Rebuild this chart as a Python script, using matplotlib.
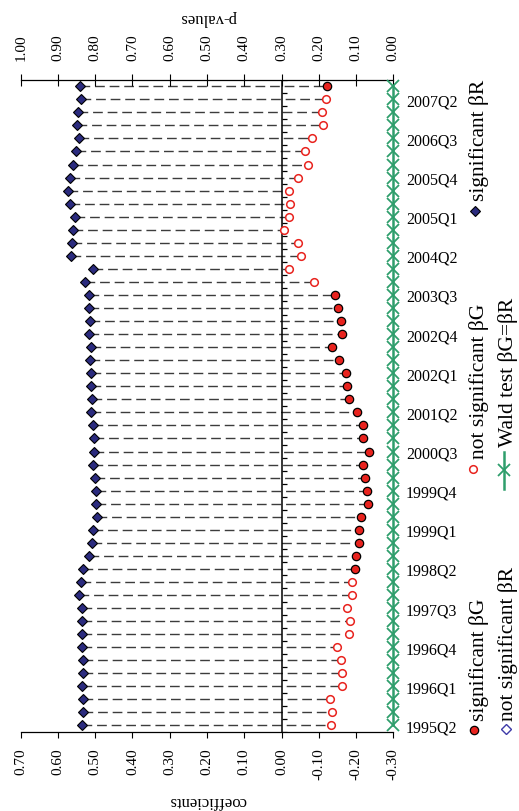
import numpy as np
import pandas as pd
import matplotlib
matplotlib.use("Agg")
import matplotlib.pyplot as plt
from matplotlib.markers import TICKRIGHT

plt.rcParams['font.family'] = ['Liberation Serif', 'DejaVu Serif']

quarters = [str(p) for p in pd.period_range('1995Q2', '2007Q3', freq='Q')]

beta_r = [0.535, 0.534, 0.534, 0.535, 0.534, 0.534, 0.535, 0.535, 0.535, 0.535,
          0.543, 0.539, 0.534, 0.518, 0.509, 0.505, 0.494, 0.498, 0.498, 0.500,
          0.505, 0.503, 0.503, 0.507, 0.512, 0.509, 0.511, 0.511, 0.514, 0.512,
          0.516, 0.514, 0.518, 0.518, 0.527, 0.507, 0.564, 0.562, 0.559, 0.553,
          0.568, 0.573, 0.568, 0.560, 0.552, 0.543, 0.550, 0.545, 0.539, 0.541]

beta_g = [-0.134, -0.135, -0.130, -0.162, -0.162, -0.159, -0.148, -0.182, -0.184, -0.175,
          -0.189, -0.189, -0.196, -0.200, -0.207, -0.207, -0.213, -0.232, -0.229, -0.225,
          -0.218, -0.236, -0.218, -0.218, -0.203, -0.180, -0.177, -0.173, -0.155, -0.135,
          -0.162, -0.159, -0.152, -0.144, -0.088, -0.019, -0.051, -0.045, -0.007, -0.019,
          -0.023, -0.019, -0.045, -0.071, -0.063, -0.081, -0.111, -0.108, -0.119, -0.123]

# 1 = significant
g_sig = [0, 0, 0, 0, 0, 0, 0, 0, 0, 0, 0, 0, 1, 1, 1, 1, 1, 1, 1, 1,
         1, 1, 1, 1, 1, 1, 1, 1, 1, 1, 1, 1, 1, 1, 0, 0, 0, 0, 0, 0,
         0, 0, 0, 0, 0, 0, 0, 0, 0, 1]
r_sig = [1] * 50

wald_p = [0.0, 0.0, 0.0, 0.0, 0.0, 0.0, 0.0, 0.0, 0.0, 0.0,
          0.0, 0.0, 0.0, 0.0, 0.0, 0.0, 0.0, 0.0, 0.0, 0.0,
          0.0, 0.0, 0.0, 0.0, 0.0, 0.0, 0.0, 0.0, 0.0, 0.0,
          0.0, 0.0, 0.0, 0.0, 0.0, 0.0, 0.0, 0.0, 0.0, 0.0,
          0.0, 0.0, 0.0, 0.0, 0.0, 0.0, 0.0, 0.0, 0.0, 0.0]

coef_ticks = [0.70, 0.60, 0.50, 0.40, 0.30, 0.20, 0.10, 0.00, -0.10, -0.20, -0.30]
p_ticks = [1.00, 0.90, 0.80, 0.70, 0.60, 0.50, 0.40, 0.30, 0.20, 0.10, 0.00]

red = '#e8231e'
navy = '#2b2b7e'
green = '#2f9e6c'

y = np.arange(len(quarters))
br = np.array(beta_r)
bg = np.array(beta_g)
gs = np.array(g_sig, dtype=bool)
rs = np.array(r_sig, dtype=bool)

fig = plt.figure(figsize=(5.19, 8.12), dpi=100)
ax = fig.add_axes([0.0399, 0.0973, 0.7179, 0.8033])

ax.hlines(y, br, bg, colors='#3c3c3c', linestyles=(0, (7, 3.5)), lw=1.0, zorder=1)
ax.axvline(0, color='black', lw=1.1, zorder=2)
ax.plot(np.zeros(len(y) + 1), np.arange(len(y) + 1) - 0.5, ls='none',
        marker=TICKRIGHT, ms=3.5, mew=0.9, color='black', zorder=2)

ax.plot(br[rs], y[rs], ls='none', marker='D', ms=5.5, mfc=navy, mec='black', mew=0.8, zorder=3)
ax.plot(br[~rs], y[~rs], ls='none', marker='D', ms=5.5, mfc='white', mec='#3d3aa8', mew=1.0, zorder=3)
ax.plot(bg[gs], y[gs], ls='none', marker='o', ms=6, mfc=red, mec='black', mew=0.9, zorder=3)
ax.plot(bg[~gs], y[~gs], ls='none', marker='o', ms=5.5, mfc='white', mec=red, mew=1.1, zorder=3)

ax.set_xlim(0.70, -0.30)
ax.set_ylim(-0.5, len(y) - 0.5)
ax.set_xticks(coef_ticks)
ax.set_xticklabels(['%.2f' % t for t in coef_ticks])
ax.tick_params(axis='x', direction='out', length=4, width=0.8, pad=7, labelsize=11, labelrotation=90)
ax.set_yticks(y[::3])
ax.set_yticklabels(quarters[::3])
ax.yaxis.tick_right()
ax.tick_params(axis='y', length=0, pad=9, labelsize=11.5)
for s in ['left', 'right', 'top']:
    ax.spines[s].set_visible(False)
ax.spines['bottom'].set_linewidth(0.9)

ax2 = ax.twiny()
ax2.plot(wald_p, y, color=green, lw=1.8, marker='x', ms=8.5, mew=1.3, zorder=4, clip_on=False)
ax2.set_xlim(1.0, 0.0)
ax2.set_xticks(p_ticks)
ax2.set_xticklabels(['%.2f' % t for t in p_ticks])
ax2.tick_params(axis='x', direction='inout', length=8, width=0.8, pad=10, labelsize=11, labelrotation=90)
for s in ['left', 'right', 'bottom']:
    ax2.spines[s].set_visible(False)
ax2.spines['top'].set_linewidth(0.9)

fig.text(208 / 519, 1 - 801 / 812, 'coefficients', rotation=180, ha='center', va='center', fontsize=12)
fig.text(208 / 519, 1 - 18 / 812, 'p-values', rotation=180, ha='center', va='center', fontsize=12)

# legend, drawn rotated like the rest of the chart
lg = fig.add_axes([0, 0, 1, 1])
lg.set_xlim(0, 519)
lg.set_ylim(812, 0)
lg.axis('off')
lg.plot(474, 731, marker='o', ms=6, mfc=red, mec='black', mew=0.9)
lg.text(479, 721, 'significant βG', rotation=90, ha='center', va='bottom', fontsize=15.5)
lg.plot(473, 470, marker='o', ms=5.5, mfc='white', mec=red, mew=1.1)
lg.text(479, 459, 'not significant βG', rotation=90, ha='center', va='bottom', fontsize=15.5)
lg.plot(475, 212, marker='D', ms=5.5, mfc=navy, mec='black', mew=0.8)
lg.text(479, 201, 'significant βR', rotation=90, ha='center', va='bottom', fontsize=15.5)
lg.plot(506, 730, marker='D', ms=5.5, mfc='white', mec='#3d3aa8', mew=1.0)
lg.text(508, 721, 'not significant βR', rotation=90, ha='center', va='bottom', fontsize=15.5)
lg.plot([504, 504], [453, 490], color=green, lw=1.8)
lg.plot(504, 471, marker='x', ms=8.5, mew=1.3, color=green)
lg.text(508, 447, 'Wald test βG=βR', rotation=90, ha='center', va='bottom', fontsize=15.5)

fig.savefig('out.png', dpi=100)
